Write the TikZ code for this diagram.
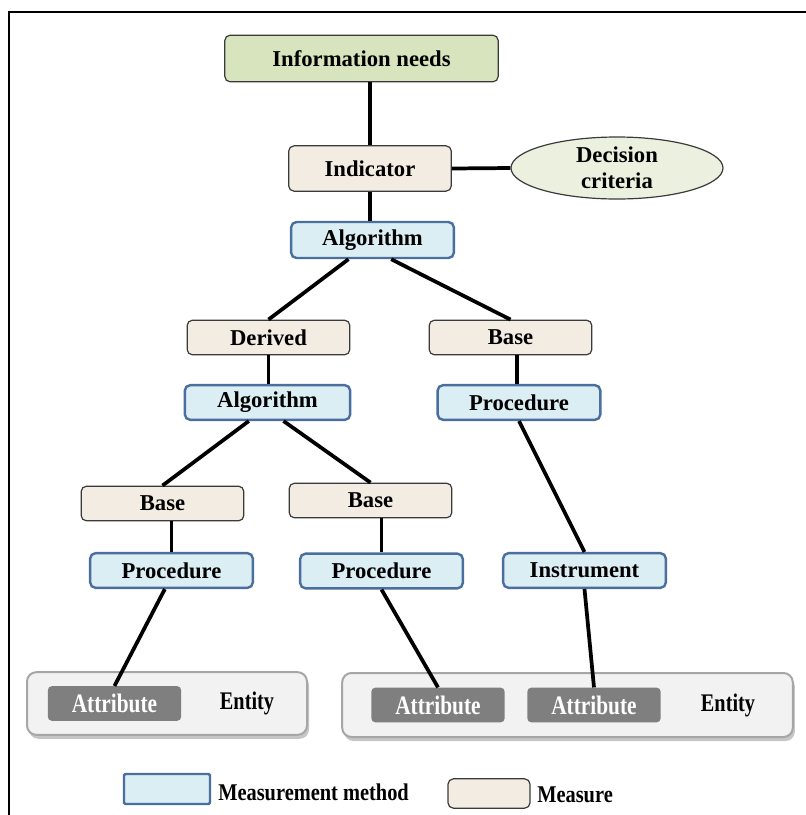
\documentclass[tikz,border=0pt]{standalone}
\usepackage{graphicx}
\usepackage{fontspec}
\setmainfont{Liberation Serif}
\usetikzlibrary{shapes.geometric}
\usetikzlibrary{shadows}
\definecolor{needfill}{HTML}{D7E4BD}
\definecolor{measurefill}{HTML}{F3ECE2}
\definecolor{methodfill}{HTML}{DBEEF4}
\definecolor{methodline}{HTML}{4A6E9E}
\definecolor{critfill}{HTML}{EBF1DE}
\definecolor{boxline}{HTML}{3A3A3A}
\definecolor{entityfill}{HTML}{F2F2F2}
\definecolor{entityline}{HTML}{A6A6A6}
\definecolor{attrfill}{HTML}{7F7F7F}
\newcommand{\condtext}[2][0.8]{\scalebox{#1}[1]{#2}}
\tikzset{x=0.75pt, y=-0.75pt,
	box/.style={
		rectangle,
		rounded corners=4pt,
		draw=boxline,
		line width=0.9pt,
		minimum width=122pt,
		minimum height=26pt,
		inner sep=0pt,
		font=\fontsize{17}{19.5}\selectfont\bfseries},
	need/.style={box, fill=needfill, minimum width=205pt, minimum height=35pt},
	measure/.style={box, fill=measurefill},
	method/.style={box, fill=methodfill, draw=methodline, line width=1.8pt},
	crit/.style={
		ellipse,
		draw=boxline,
		line width=0.9pt,
		fill=critfill,
		minimum width=159pt,
		minimum height=46.5pt,
		inner sep=0pt,
		align=center,
		font=\fontsize{17}{19.5}\selectfont\bfseries},
	entitybox/.style={
		rectangle,
		rounded corners=7pt,
		draw=entityline,
		line width=1.5pt,
		fill=entityfill,
		drop shadow={opacity=0.45, shadow xshift=1.5pt, shadow yshift=-3pt}},
	attr/.style={
		rectangle,
		rounded corners=3pt,
		fill=attrfill,
		text=white,
		minimum width=100pt,
		minimum height=26pt,
		inner sep=0pt,
		font=\fontsize{20}{22}\selectfont\bfseries},
	entlabel/.style={inner sep=0pt, font=\fontsize{19}{22}\selectfont\bfseries},
	legtext/.style={inner sep=0pt, font=\fontsize{18}{20}\selectfont\bfseries},
	link/.style={line width=2.8pt}
}

\begin{document}
\begin{tikzpicture}
	\useasboundingbox (0,0) rectangle (806,815);
	\draw[line width=1.5pt] (9,815) -- (9,12) -- (806,12);

	\node[need] (need) at (361.5,58.5) {Information needs};
	\node[measure, minimum height=34pt] (ind) at (370,168.5) {Indicator};
	\node[crit] (crit) at (617,168) {Decision\\criteria};
	\node[method, minimum height=27pt] (alg1) at (372.5,240) {Algorithm};
	\node[measure] (der) at (268.5,337.5) {Derived};
	\node[measure] (baseR) at (510.5,337.5) {Base};
	\node[method, minimum width=124pt] (alg2) at (267.5,402.5) {Algorithm};
	\node[method] (procR) at (519,402.5) {Procedure};
	\node[measure] (baseL) at (162.5,503.5) {Base};
	\node[measure] (baseM) at (370.5,500.5) {Base};
	\node[method] (procL) at (171.5,570.5) {Procedure};
	\node[method] (procM) at (381.5,571) {Procedure};
	\node[method] (instr) at (584.5,570.5) {Instrument};

	\node[entitybox, minimum width=210pt, minimum height=47pt] (ent1) at (167,703.5) {};
	\node[entitybox, minimum width=338pt, minimum height=48pt] (ent2) at (567.5,705) {};
	\node[attr] (att1) at (114.5,703.5) {\condtext{Attribute}};
	\node[attr] (att2) at (438,705) {\condtext{Attribute}};
	\node[attr] (att3) at (594,705) {\condtext{Attribute}};
	\node[entlabel] (lab1) at (247,703) {\condtext{Entity}};
	\node[entlabel] (lab2) at (728,705) {\condtext{Entity}};

	\draw[link] (ind.north |- need.south) -- (ind.north);
	\draw[link] (ind.east) -- (crit.west);
	\draw[link] (ind.south) -- (ind.south |- alg1.north);
	\draw[link] ([xshift=-18pt]alg1.south) -- (der.north);
	\draw[link] ([xshift=14pt]alg1.south) -- (baseR.north);
	\draw[link] (der.south) -- (der.south |- alg2.north);
	\draw[link] ([xshift=5pt]baseR.south) -- ([xshift=5pt]baseR.south |- procR.north);
	\draw[link] ([xshift=-14pt]alg2.south) -- (baseL.north);
	\draw[link] ([xshift=12pt]alg2.south) -- (baseM.north);
	\draw[link] (procL.north |- baseL.south) -- (procL.north);
	\draw[link] (procM.north |- baseM.south) -- (procM.north);
	\draw[link] (procR.south) -- (instr.north);
	\draw[link] ([xshift=-5pt]procL.south) -- (att1.north);
	\draw[link] (procM.south) -- (att2.north);
	\draw[link] (instr.south) -- (att3.north);

	\node[method, minimum width=64.5pt, minimum height=22.5pt, rounded corners=1pt] (keyM) at (167,789) {};
	\node[legtext, anchor=west] (keyMtext) at (218,792) {\condtext[0.85]{Measurement method}};
	\node[measure, minimum width=61.5pt, minimum height=22pt] (keyB) at (489,793.5) {};
	\node[legtext, anchor=west] (keyBtext) at (537,795) {\condtext[0.85]{Measure}};
\end{tikzpicture}
\end{document}
